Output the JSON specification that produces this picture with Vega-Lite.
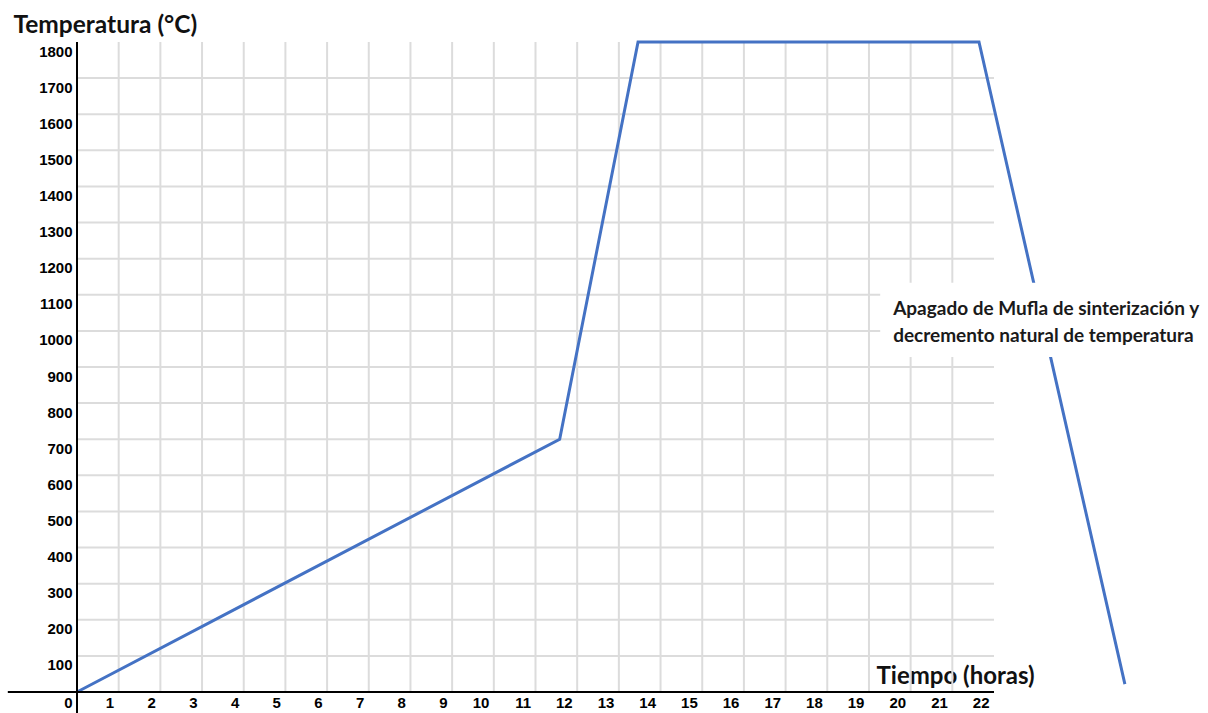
{
  "$schema": "https://vega.github.io/schema/vega-lite/v6.json",
  "width": 917,
  "height": 650,
  "autosize": {"type": "none"},
  "padding": {"left": 77, "top": 42, "right": 214, "bottom": 21},
  "background": "white",
  "config": {"view": {"stroke": null}},
  "datasets": {
    "perfil": [
      {"t": 0, "temp": 0},
      {"t": 11.58, "temp": 700},
      {"t": 13.46, "temp": 1800},
      {"t": 21.64, "temp": 1800},
      {"t": 25.14, "temp": 22}
    ],
    "rejilla_x": [
      {"t": 1}, {"t": 2}, {"t": 3}, {"t": 4}, {"t": 5}, {"t": 6}, {"t": 7}, {"t": 8}, {"t": 9}, {"t": 10}, {"t": 11},
      {"t": 12}, {"t": 13}, {"t": 14}, {"t": 15}, {"t": 16}, {"t": 17}, {"t": 18}, {"t": 19}, {"t": 20}, {"t": 21}
    ],
    "rejilla_y": [
      {"temp": 100}, {"temp": 200}, {"temp": 300}, {"temp": 400}, {"temp": 500}, {"temp": 600}, {"temp": 700}, {"temp": 800},
      {"temp": 900}, {"temp": 1000}, {"temp": 1100}, {"temp": 1200}, {"temp": 1300}, {"temp": 1400}, {"temp": 1500},
      {"temp": 1600}, {"temp": 1700}
    ],
    "eje_x": [{"t": -1.66, "t2": 22, "temp": 0}],
    "eje_y": [{"t": 0, "temp": -58, "temp2": 1800}],
    "caja": [{"t": 19.27, "t2": 27.5, "temp": 928, "temp2": 1133}],
    "nota": [{"t": 19.58, "temp": 1044, "texto": ["Apagado de Mufla de sinterización y", "decremento natural de temperatura"]}]
  },
  "encoding": {
    "x": {
      "field": "t",
      "type": "quantitative",
      "scale": {"domain": [0, 22], "nice": false, "zero": false},
      "axis": {
        "values": [0,1,2,3,4,5,6,7,8,9,10,11,12,13,14,15,16,17,18,19,20,21,22],
        "format": "d",
        "grid": false,
        "domain": false,
        "ticks": false,
        "tickSize": 0,
        "labelAlign": "right",
        "labelBaseline": "middle",
        "labelOffset": -5,
        "labelPadding": 10,
        "labelFont": "Liberation Sans",
        "labelFontWeight": "bold",
        "labelFontSize": 15,
        "labelColor": "black",
        "labelOverlap": false,
        "labelFlush": false,
        "labelBound": false,
        "title": "Tiempo (horas)",
        "titleFont": "Lato",
        "titleFontWeight": "bold",
        "titleFontSize": 24,
        "titleColor": "#111111",
        "titleAlign": "left",
        "titleBaseline": "alphabetic",
        "titleX": 799,
        "titleY": -9
      }
    },
    "y": {
      "field": "temp",
      "type": "quantitative",
      "scale": {"domain": [0, 1800], "nice": false, "zero": false},
      "axis": {
        "values": [100,200,300,400,500,600,700,800,900,1000,1100,1200,1300,1400,1500,1600,1700,1800],
        "format": "d",
        "grid": false,
        "domain": false,
        "ticks": false,
        "tickSize": 0,
        "labelPadding": 5,
        "labelBaseline": "middle",
        "labelOffset": 9,
        "labelFont": "Liberation Sans",
        "labelFontWeight": "bold",
        "labelFontSize": 15,
        "labelColor": "black",
        "labelOverlap": false,
        "labelFlush": false,
        "labelBound": false,
        "title": "Temperatura (°C)",
        "titleFont": "Lato",
        "titleFontWeight": "bold",
        "titleFontSize": 24.5,
        "titleColor": "#111111",
        "titleAngle": 0,
        "titleAlign": "left",
        "titleBaseline": "alphabetic",
        "titleX": -64,
        "titleY": -10
      }
    }
  },
  "layer": [
    {
      "data": {"name": "rejilla_x"},
      "mark": {"type": "rule", "color": "#dcdcdc", "strokeWidth": 2},
      "encoding": {"y": null}
    },
    {
      "data": {"name": "rejilla_y"},
      "mark": {"type": "rule", "color": "#dcdcdc", "strokeWidth": 2},
      "encoding": {"x": null}
    },
    {
      "data": {"name": "perfil"},
      "mark": {"type": "line", "color": "#4472c4", "strokeWidth": 3, "clip": false},
      "encoding": {}
    },
    {
      "data": {"name": "eje_x"},
      "mark": {"type": "rule", "color": "black", "strokeWidth": 2, "clip": false},
      "encoding": {"x2": {"field": "t2"}}
    },
    {
      "data": {"name": "eje_y"},
      "mark": {"type": "rule", "color": "black", "strokeWidth": 2, "clip": false},
      "encoding": {"y2": {"field": "temp2"}}
    },
    {
      "data": {"name": "caja"},
      "mark": {"type": "rect", "color": "white", "clip": false},
      "encoding": {"x2": {"field": "t2"}, "y2": {"field": "temp2"}}
    },
    {
      "data": {"name": "nota"},
      "mark": {"type": "text", "align": "left", "baseline": "alphabetic", "font": "Lato", "fontWeight": "bold", "fontSize": 19, "lineHeight": 27, "color": "#1a1a1a", "clip": false},
      "encoding": {"text": {"field": "texto"}}
    }
  ]
}
